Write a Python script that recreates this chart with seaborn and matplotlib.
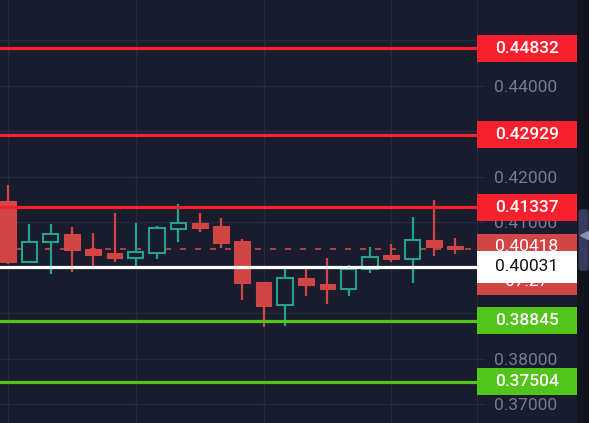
import matplotlib
matplotlib.use("Agg")
import matplotlib.pyplot as plt
from matplotlib.patches import Rectangle, FancyBboxPatch
from matplotlib.lines import Line2D
from matplotlib.transforms import blended_transform_factory
import seaborn as sns

# candle data (oldest -> newest)
opens = [0.41473, 0.40132, 0.40565, 0.40747, 0.40418, 0.40323, 0.40227, 0.40330,
         0.40857, 0.40982, 0.40916, 0.40593, 0.39692, 0.39179, 0.39787, 0.39657,
         0.39538, 0.39971, 0.40286, 0.40198, 0.40615, 0.40484]
highs = [0.41824, 0.40967, 0.40967, 0.40895, 0.40769, 0.41209, 0.40982, 0.40923,
         0.41413, 0.41209, 0.41092, 0.40637, 0.39692, 0.40040, 0.40010, 0.40213,
         0.40059, 0.40462, 0.40521, 0.41121, 0.41488, 0.40653]
lows = [0.40088, 0.40125, 0.39875, 0.39919, 0.40029, 0.40132, 0.40044, 0.40205,
        0.40578, 0.40798, 0.40446, 0.39290, 0.38697, 0.38732, 0.39385, 0.39209,
        0.39391, 0.39897, 0.40132, 0.39679, 0.40271, 0.40301]
closes = [0.40132, 0.40571, 0.40741, 0.40396, 0.40292, 0.40220, 0.40352, 0.40873,
          0.40982, 0.40886, 0.40558, 0.39663, 0.39171, 0.39787, 0.39633, 0.39538,
          0.39985, 0.40242, 0.40191, 0.40609, 0.40462, 0.40418]

resistance_levels = [0.44832, 0.42929, 0.41337]
support_levels = [0.38845, 0.37504]
entry_level = 0.40031
last_price = 0.40418
countdown = "07:27"
price_ticks = [0.45, 0.44, 0.43, 0.42, 0.41, 0.40, 0.39, 0.38, 0.37]
# ticks hidden behind the level labels
hidden_ticks = [0.45, 0.43, 0.40, 0.39]
time_ticks = [0, 6, 12, 18]

BG = "#191c2d"
GRID = "#252a3c"
RED_LINE = "#f7202e"
RED_CANDLE = "#d14545"
GREEN_CANDLE = "#22a38a"
GREEN_LINE = "#52c41a"
TICK_GRAY = "#737a95"

sns.set_theme(style="dark", rc={"axes.facecolor": BG, "figure.facecolor": BG})
plt.rcParams["font.family"] = ["Roboto", "DejaVu Sans"]

W, H = 589, 423
fig = plt.figure(figsize=(W / 100, H / 100), dpi=100)
ax = fig.add_axes([0, 0, 477 / W, 1])
ax.set_facecolor(BG)

# candles
xs = list(range(len(opens)))
for i in xs:
    o, h, l, c = opens[i], highs[i], lows[i], closes[i]
    up = c >= o
    col = GREEN_CANDLE if up else RED_CANDLE
    ax.vlines(i, l, h, color=col, lw=1.6, zorder=3)
    bottom = min(o, c)
    height = max(abs(c - o), 0.00008)
    if up:
        ax.bar(i, height, bottom=bottom, width=0.72, facecolor=BG,
               edgecolor=col, linewidth=1.5, zorder=4)
    else:
        ax.bar(i, height, bottom=bottom, width=0.74, facecolor=col,
               edgecolor=col, linewidth=0.8, zorder=4)

# level lines
for lvl in resistance_levels:
    ax.axhline(lvl, color=RED_LINE, lw=2.3, zorder=5)
for lvl in support_levels:
    ax.axhline(lvl, color=GREEN_LINE, lw=2.3, zorder=5)
ax.axhline(entry_level, color="white", lw=2.3, zorder=5)
ax.axhline(last_price, color=RED_CANDLE, lw=1.2, dashes=(3.6, 5.4), zorder=2)

ax.set_xlim(-0.376, 22.02)
ax.set_ylim(0.36593, 0.44 + 86 / 4550)
ax.set_xticks(time_ticks)
ax.set_xticklabels([])
ax.tick_params(axis="x", length=0)
ax.set_yticks(price_ticks)
ax.set_yticklabels(["" if t in hidden_ticks else f"{t:.5f}" for t in price_ticks])
ax.yaxis.tick_right()
ax.tick_params(axis="y", direction="inout", length=11, width=0.8, color=GRID,
               pad=6.5, labelsize=12.5, labelcolor=TICK_GRAY)
ax.grid(True, color=GRID, lw=1.0)
for side in ["top", "left", "bottom"]:
    ax.spines[side].set_visible(False)
ax.spines["right"].set_color("#262b40")
ax.spines["right"].set_linewidth(0.8)

# price labels on the axis
trans = blended_transform_factory(fig.transFigure, ax.transData)
bx0, bx1 = 477 / W, 577 / W
bh = 27 / 4550


def price_box(value, face, text, color, weight="medium", h=bh):
    ax.add_patch(Rectangle((bx0, value - h / 2), bx1 - bx0, h, transform=trans,
                           facecolor=face, edgecolor="none", clip_on=False, zorder=10))
    ax.text((bx0 + bx1) / 2, value, text, transform=trans,
            ha="center", va="center", color=color, fontsize=12.5,
            fontweight=weight, zorder=11, clip_on=False)


for lvl in resistance_levels:
    price_box(lvl, RED_LINE, f"{lvl:.5f}", "white")
for lvl in support_levels:
    price_box(lvl, GREEN_LINE, f"{lvl:.5f}", "white")

# current price box with countdown, partly hidden by entry label
cur_top = 0.44 - (234 - 86) / 4550
cur_bot = 0.44 - (295 - 86) / 4550
ax.add_patch(Rectangle((bx0, cur_bot), bx1 - bx0, cur_top - cur_bot, transform=trans,
                       facecolor=RED_CANDLE, edgecolor="none", clip_on=False, zorder=10))
ax.text((bx0 + bx1) / 2, 0.44 - (247 - 86) / 4550, f"{last_price:.5f}", transform=trans,
        ha="center", va="center", color="white", fontsize=12.5, zorder=11)
ax.text((bx0 + bx1) / 2, 0.44 - (282 - 86) / 4550, countdown, transform=trans,
        ha="center", va="center", color="white", fontsize=12.5, zorder=11)
price_box(entry_level, "white", f"{entry_level:.5f}", "#131313", weight="normal",
          h=32 / 4550)

# right scroll strip
fig.patches.append(Rectangle((577 / W, 0), 12 / W, 1, transform=fig.transFigure,
                             facecolor="#11131f", edgecolor="none"))
fig.patches.append(FancyBboxPatch((578.5 / W, (H - 271) / H), 10 / W, 62 / H,
                                  boxstyle="round,pad=0,rounding_size=0.008",
                                  transform=fig.transFigure, facecolor="#363b5e",
                                  edgecolor="none"))
fig.add_artist(Line2D([584 / W], [(H - 235) / H], marker="<", markersize=6,
                      color="#8a90b0", transform=fig.transFigure))

fig.savefig("out.png", dpi=100, facecolor=BG)
